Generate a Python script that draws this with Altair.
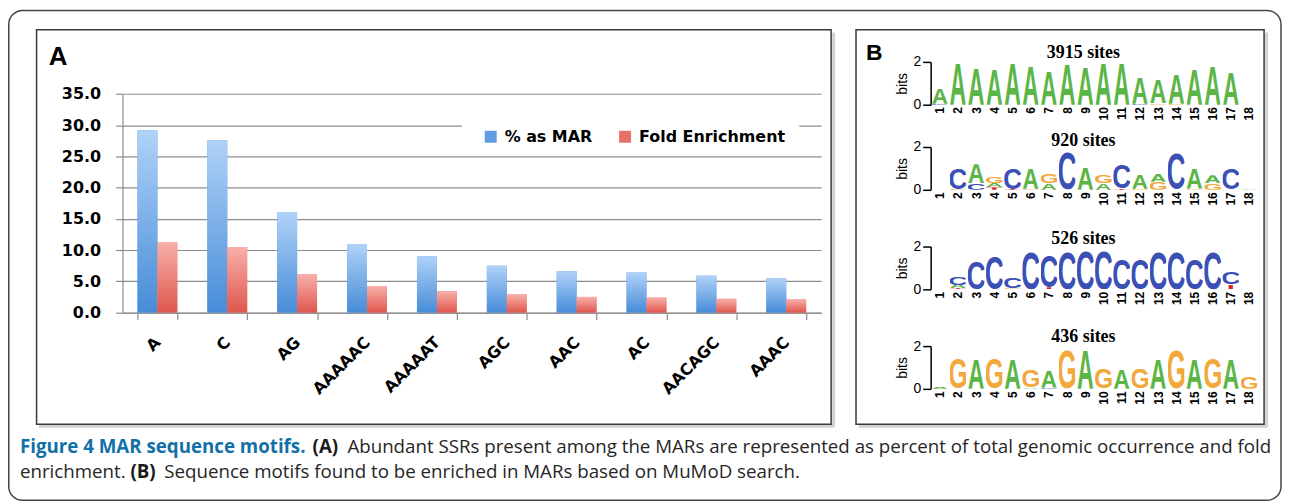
import base64
import altair as alt
import pandas as pd

# ---------------- Panel A data ----------------
motifs = ["A", "C", "AG", "AAAAAC", "AAAAAT", "AGC", "AAC", "AC", "AACAGC", "AAAC"]
pct_as_mar = [29.2, 27.6, 16.0, 10.9, 9.0, 7.5, 6.6, 6.4, 5.9, 5.5]
fold_enrichment = [11.2, 10.5, 6.1, 4.25, 3.4, 2.9, 2.5, 2.4, 2.2, 2.1]
series_names = ["% as MAR", "Fold Enrichment"]
y_ticks = [0, 5, 10, 15, 20, 25, 30, 35]

# ---------------- Panel B data (letter stacks, bottom -> top, in bits) ----------------
positions = list(range(1, 19))
logo_titles = ["3915 sites", "920 sites", "526 sites", "436 sites"]
logo_3915 = [
    [("C", 0.04), ("A", 0.72)], [("A", 2.0)], [("A", 1.73)], [("A", 1.7)], [("A", 1.97)],
    [("A", 1.84)], [("A", 1.62)], [("A", 1.94)], [("A", 1.8)], [("A", 2.0)], [("A", 2.0)],
    [("C", 0.05), ("A", 1.25)], [("G", 0.08), ("A", 1.1)], [("G", 0.04), ("A", 1.42)],
    [("A", 1.68)], [("A", 1.89)], [("A", 1.53)], [],
]
logo_920 = [
    [], [("G", 0.04), ("C", 1.05)], [("C", 0.3), ("A", 0.9)], [("T", 0.12), ("A", 0.2), ("G", 0.33)],
    [("T", 0.04), ("C", 1.03)], [("G", 0.05), ("A", 1.0)], [("A", 0.3), ("G", 0.45)], [("C", 1.8)],
    [("A", 1.05)], [("A", 0.3), ("G", 0.4)], [("T", 0.05), ("C", 1.15)], [("G", 0.05), ("A", 0.65)],
    [("G", 0.38), ("A", 0.37)], [("C", 1.75)], [("G", 0.06), ("A", 1.0)], [("G", 0.3), ("A", 0.38)],
    [("C", 1.05)], [("A", 0.03)],
]
logo_526 = [
    [], [("T", 0.05), ("A", 0.15), ("C", 0.38)], [("C", 1.35)], [("C", 1.6)], [("G", 0.05), ("C", 0.5)],
    [("C", 1.8)], [("T", 0.1), ("C", 1.55)], [("C", 1.8)], [("C", 1.9)], [("C", 1.9)], [("C", 1.45)],
    [("C", 1.45)], [("C", 1.8)], [("C", 1.8)], [("C", 1.45)], [("C", 1.8)], [("T", 0.22), ("C", 0.6)],
    [("C", 0.03)],
]
logo_436 = [
    [("A", 0.1)], [("G", 1.5)], [("A", 1.45)], [("G", 1.5)], [("A", 1.45)], [("A", 0.05), ("G", 0.85)],
    [("C", 0.06), ("A", 0.8)], [("G", 1.85)], [("A", 1.85)], [("G", 0.95)], [("A", 0.95)], [("G", 0.95)],
    [("A", 1.45)], [("G", 1.85)], [("A", 1.45)], [("G", 1.45)], [("A", 1.45)], [("G", 0.55)],
]

# ---------------- Caption text ----------------
caption_line1 = ["Figure 4 MAR sequence motifs.", "(A)",
                 "Abundant SSRs present among the MARs are represented as percent of total genomic occurrence and fold"]
caption_line2 = ["enrichment.", "(B)", "Sequence motifs found to be enriched in MARs based on MuMoD search."]

# ---------------- styles ----------------
LETTER_COLORS = {"A": "#5cb547", "C": "#3b50b5", "G": "#f2a83b", "T": "#d6262a"}
GLYPH_BOX = {"A": (0.0, 72.2, -71.6, 71.6), "C": (4.8, 63.0, -73.1, 74.6),
             "G": (4.5, 67.8, -73.1, 74.6), "T": (2.2, 56.7, -71.6, 71.6)}


def glyph_uri(letter):
    x0, w, y0, h = GLYPH_BOX[letter]
    svg = (f"<svg xmlns='http://www.w3.org/2000/svg' width='{w}' height='{h}' "
           f"viewBox='{x0} {y0} {w} {h}' preserveAspectRatio='none'>"
           f"<text x='0' y='0' font-family='Liberation Sans, Arial, sans-serif' font-weight='bold' "
           f"font-size='100' fill='{LETTER_COLORS[letter]}'>{letter}</text></svg>")
    return "data:image/svg+xml;base64," + base64.b64encode(svg.encode()).decode()


GLYPH_URI = {k: glyph_uri(k) for k in LETTER_COLORS}

# page-coordinate origin of panel A's view (used only for decorations)
OX, OY = 123.0, 60.5
A_HEIGHT = 251.8          # view height; bars use the lower part (y range below)
Y_RANGE = [251.8, 32.2]   # 0 -> bottom, 35 -> top of bar plot
one = pd.DataFrame({"k": [0]})


def deco_rect(x0, y0, x1, y1, **kw):
    return alt.Chart(one).mark_rect(**kw).encode(
        x=alt.value(x0 - OX), x2=alt.value(x1 - OX), y=alt.value(y0 - OY), y2=alt.value(y1 - OY))


def deco_vrule(x, y0, y1, **kw):
    return alt.Chart(one).mark_rule(**kw).encode(
        x=alt.value(x - OX), y=alt.value(y0 - OY), y2=alt.value(y1 - OY))


def deco_hrule(x0, x1, y, **kw):
    return alt.Chart(one).mark_rule(**kw).encode(
        x=alt.value(x0 - OX), x2=alt.value(x1 - OX), y=alt.value(y - OY))


def deco_text(txt, x, y, **kw):
    return alt.Chart(one).mark_text(align="left", baseline="alphabetic", **kw).encode(
        x=alt.value(x - OX), y=alt.value(y - OY), text=alt.value(txt))


# ---------------- Panel A ----------------
bars_df = pd.DataFrame({
    "motif": motifs * 2,
    "series": [series_names[0]] * len(motifs) + [series_names[1]] * len(motifs),
    "value": pct_as_mar + fold_enrichment,
})

GRID = "#8c8c8c"
base = alt.Chart(bars_df).encode(
    x=alt.X("motif:N", sort=motifs, title=None,
            scale=alt.Scale(paddingInner=0.43, paddingOuter=0.215),
            axis=alt.Axis(labelAngle=315, labelAlign="right", labelBaseline="middle", labelPadding=20,
                          labelFont="DejaVu Sans", labelFontWeight="bold", labelFontSize=16,
                          labelColor="black", tickBand="extent", tickSize=7, tickColor=GRID,
                          domainColor=GRID, domainWidth=1.2, tickWidth=1.2, labelOverlap=False)),
    xOffset=alt.XOffset("series:N", sort=series_names,
                        scale=alt.Scale(domain=series_names, paddingInner=0, paddingOuter=0)),
    y=alt.Y("value:Q", title=None, scale=alt.Scale(domain=[0, 35], nice=False, range=Y_RANGE),
            axis=alt.Axis(values=y_ticks, format=".1f", labelFont="DejaVu Sans", labelFontWeight="bold",
                          labelFontSize=16, labelColor="black", labelPadding=15, tickSize=7,
                          tickColor=GRID, domainColor=GRID, gridColor=GRID, grid=True,
                          gridWidth=1.2, domainWidth=1.2, tickWidth=1.2)),
)

legend_bars = base.mark_bar().encode(
    color=alt.Color("series:N",
                    scale=alt.Scale(domain=series_names, range=["#5f9de3", "#e77069"]),
                    legend=alt.Legend(orient="none", legendX=362, legendY=67.2, direction="horizontal",
                                      title=None, symbolType="square", symbolSize=144,
                                      symbolStrokeWidth=0, labelFont="DejaVu Sans",
                                      labelFontSize=16, labelFontWeight="bold", labelColor="black",
                                      columnPadding=24, labelOffset=6, padding=0)))

blue_grad = alt.LinearGradient(gradient="linear", x1=0, x2=0, y1=0, y2=1,
                               stops=[alt.GradientStop(color="#b0d2f8", offset=0),
                                      alt.GradientStop(color="#478cd8", offset=1)])
red_grad = alt.LinearGradient(gradient="linear", x1=0, x2=0, y1=0, y2=1,
                              stops=[alt.GradientStop(color="#f8b0aa", offset=0),
                                     alt.GradientStop(color="#de574d", offset=1)])
blue_bars = base.transform_filter(alt.datum.series == series_names[0]).mark_bar(color=blue_grad)
red_bars = base.transform_filter(alt.datum.series == series_names[1]).mark_bar(color=red_grad)

BOX = "#3a3a3a"
SHADOW = "#d2d2d2"
cap_font = "Open Sans"
CAP = 18.8
decorations = [
    deco_rect(8.75, 8.75, 1287, 501, fill="transparent", stroke="#444444", strokeWidth=1.5, cornerRadius=14),
    deco_vrule(837.5, 31, 427, color=SHADOW, strokeWidth=3),
    deco_hrule(39, 837.5, 426.5, color=SHADOW, strokeWidth=3),
    deco_vrule(1272.5, 31, 427, color=SHADOW, strokeWidth=3),
    deco_hrule(863, 1272.5, 426.5, color=SHADOW, strokeWidth=3),
    deco_rect(36.7, 28.3, 835, 424.5, fill="transparent", stroke=BOX, strokeWidth=1.5),
    deco_rect(860, 28.3, 1270, 424.5, fill="transparent", stroke=BOX, strokeWidth=1.5),
    deco_text("A", 49, 63.5, font="Liberation Sans", fontSize=26, fontWeight="bold", color="black"),
    deco_text("B", 870, 58.5, font="Liberation Sans", fontSize=23, fontWeight="bold", color="black"),
    deco_text(caption_line1[0], 20, 453, font=cap_font, fontSize=CAP, fontWeight="bold", color="#1270a8"),
    deco_text(caption_line1[1], 314, 453, font=cap_font, fontSize=CAP, fontWeight="bold", color="#1a1a1a"),
    deco_text(caption_line1[2], 349, 453, font=cap_font, fontSize=CAP, color="#262626"),
    deco_text(caption_line2[0], 20, 479, font=cap_font, fontSize=CAP, color="#262626"),
    deco_text(caption_line2[1], 131, 479, font=cap_font, fontSize=CAP, fontWeight="bold", color="#1a1a1a"),
    deco_text(caption_line2[2], 165, 479, font=cap_font, fontSize=CAP, color="#262626"),
    deco_rect(464, 117, 803, 151, fill="white", stroke="white", strokeWidth=0),
]

panel_a = alt.layer(*decorations, legend_bars, blue_bars, red_bars).properties(width=702, height=A_HEIGHT)


# ---------------- Panel B ----------------
def logo_frame(stacks):
    rows = []
    for pos, stack in zip(positions, stacks):
        y = 0.0
        for letter, h in stack:
            rows.append({"pos": pos, "letter": letter, "x0": pos - 0.46, "x1": pos + 0.46,
                         "y0": y, "y1": y + h, "url": GLYPH_URI[letter]})
            y += h
    return pd.DataFrame(rows)


def logo_chart(stacks, title, offset):
    df = logo_frame(stacks)
    return alt.Chart(df).mark_image(aspect=False).encode(
        x=alt.X("x0:Q", title=None, scale=alt.Scale(domain=[0.5, 18.5], nice=False, zero=False),
                axis=alt.Axis(values=positions, labelAngle=270, labelAlign="right", labelBaseline="middle",
                              labelFont="Liberation Sans", labelFontWeight="bold", labelFontSize=12,
                              labelColor="black", labelPadding=2, ticks=False, domain=False, grid=False,
                              labelOverlap=False, labelFlush=False)),
        x2="x1:Q",
        y=alt.Y("y0:Q", title="bits", scale=alt.Scale(domain=[0, 2], nice=False),
                axis=alt.Axis(values=[0, 1, 2], format="d", grid=False, labelFont="Liberation Sans",
                              labelFontSize=14, labelColor="black", labelPadding=2, tickSize=8,
                              tickColor="black", tickWidth=1.5, domainColor="black", domainWidth=1.5,
                              titleFont="Liberation Sans", titleFontSize=14, titleFontWeight="normal",
                              titleColor="black", titlePadding=3, labelFlush=False)),
        y2="y1:Q",
        url="url:N",
    ).properties(width=329, height=43,
                 title=alt.TitleParams(title, font="Liberation Serif", fontSize=18, fontWeight="bold",
                                       color="black", anchor="middle", frame="group", offset=offset,
                                       dx=-11, dy=26, baseline="alphabetic"))


logos = [logo_chart(s, t, o) for s, t, o in zip([logo_3915, logo_920, logo_526, logo_436],
                                                   logo_titles, [5, 2, 4, 5])]
column_b = alt.vconcat(logos[0], alt.vconcat(*logos[1:], spacing=57, bounds="flush"),
                       spacing=42.5, bounds="flush")

chart = alt.hconcat(panel_a, column_b, spacing=110, bounds="flush").resolve_scale(
    color="independent").properties(padding=0).configure(background="white").configure_view(stroke=None)

chart.save("out.html", embed_options={"renderer": "svg", "actions": False})
